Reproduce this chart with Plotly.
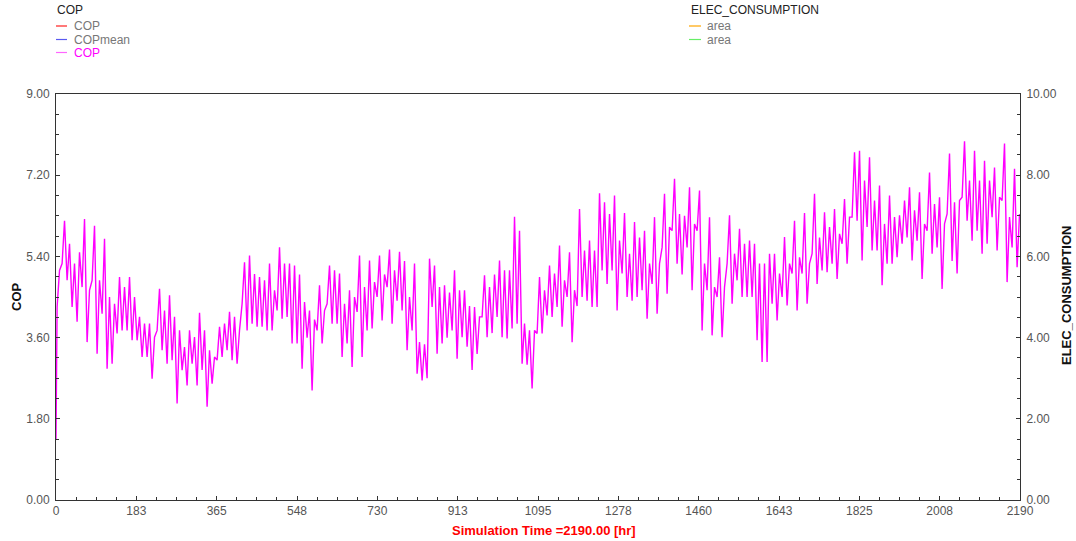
import numpy as np
import plotly.graph_objects as go

# ---------------- data ----------------
X_TICK_VALUES = [0, 182.5, 365, 547.5, 730, 912.5, 1095, 1277.5, 1460, 1642.5, 1825, 2007.5, 2190]
X_TICK_LABELS = ["0", "183", "365", "548", "730", "913", "1095", "1278", "1460", "1643", "1825", "2008", "2190"]
Y_LEFT_TICKS = [0.0, 1.8, 3.6, 5.4, 7.2, 9.0]
Y_RIGHT_TICKS = [0.0, 2.0, 4.0, 6.0, 8.0, 10.0]

# first hours of the simulation
START_HOURS = [0, 1]
START_COP = [1.35, 2.45]

# approximate minimum / maximum of COP in consecutive ~11.4 h blocks
LOW_Q1 = [4.28, 5.24, 4.87, 4.28, 3.95, 4.72, 3.50, 4.87, 3.24, 4.13, 2.91, 3.02,
          3.69, 3.76, 3.76, 3.54, 3.54, 3.17, 3.17, 2.69, 3.76, 3.32, 3.02, 3.10,
          2.14, 2.88, 2.54, 3.02, 2.54, 2.88, 2.07, 2.58, 3.10, 3.17, 3.32, 3.10,
          3.02, 4.35, 3.76, 3.91, 3.84, 3.84, 3.76, 3.76, 4.20, 4.02, 4.06, 3.47]
HIGH_Q1 = [5.09, 6.19, 5.68, 5.24, 5.49, 6.23, 4.65, 6.08, 4.87, 5.79, 4.50, 4.35,
           4.94, 4.72, 4.94, 4.50, 4.06, 3.91, 3.91, 3.61, 4.68, 4.20, 4.54, 4.06,
           3.76, 3.39, 3.76, 3.61, 4.15, 3.76, 3.32, 3.17, 3.84, 3.91, 4.17, 4.06,
           3.76, 5.27, 5.42, 5.01, 4.94, 4.87, 5.24, 4.65, 5.60, 5.24, 5.24, 5.20]

LOW_Q2 = [3.47, 2.91, 3.60, 2.43, 3.76, 3.47, 4.35, 3.91, 3.91, 3.17, 3.47, 2.95,
          4.17, 3.17, 3.76, 3.80, 4.50, 3.98, 4.72, 3.91, 4.42, 4.20, 3.32, 3.76,
          2.80, 2.65, 2.70, 4.28, 3.24, 3.47, 3.60, 3.76, 3.13, 3.61, 3.40, 2.88,
          3.24, 4.06, 3.61, 3.70, 4.06, 3.61, 3.58, 3.80, 3.91, 3.02, 3.00, 2.47]
HIGH_Q2 = [5.00, 4.39, 4.20, 4.00, 4.76, 4.20, 5.20, 5.09, 5.02, 4.35, 4.65, 4.50,
           5.42, 4.72, 5.31, 4.83, 5.42, 5.00, 5.55, 5.09, 5.50, 5.30, 4.50, 5.24,
           3.50, 3.45, 5.35, 5.20, 4.72, 4.76, 4.60, 5.09, 4.65, 4.65, 4.30, 4.28,
           4.06, 4.98, 4.72, 5.00, 5.31, 5.09, 5.09, 6.28, 5.97, 3.91, 3.76, 3.76]

LOW_Q3 = [3.69, 3.69, 4.09, 4.06, 4.28, 3.84, 4.50, 3.50, 4.30, 4.50, 4.42, 4.28,
          4.28, 5.09, 4.79, 5.09, 4.20, 5.02, 4.50, 4.42, 4.50, 4.65, 4.02, 4.79,
          4.13, 5.60, 4.57, 5.97, 5.24, 5.00, 5.60, 4.65, 5.97, 3.76, 4.65, 3.65,
          4.50, 3.61, 5.24, 4.35, 4.87, 4.50, 4.50, 4.50, 3.54, 3.06, 3.06, 4.35]
HIGH_Q3 = [4.94, 4.65, 5.20, 5.02, 5.64, 4.87, 5.49, 4.65, 6.45, 5.53, 5.75, 5.53,
           6.80, 6.60, 6.34, 6.75, 5.75, 6.36, 5.46, 6.16, 5.82, 5.97, 5.24, 6.27,
           5.24, 6.79, 6.05, 7.12, 6.34, 6.30, 6.93, 6.12, 6.86, 5.24, 6.27, 4.72,
           5.38, 4.72, 6.31, 5.46, 6.01, 5.68, 5.75, 5.68, 5.24, 5.24, 5.46, 5.46]

LOW_Q4 = [3.98, 4.50, 4.31, 5.02, 4.20, 5.02, 4.35, 5.46, 4.79, 5.09, 5.05, 5.24,
          4.90, 5.68, 5.24, 6.27, 6.19, 5.31, 6.05, 5.53, 5.53, 4.76, 5.24, 5.24,
          5.38, 5.68, 5.82, 5.31, 5.75, 4.90, 5.97, 5.46, 5.60, 4.68, 6.34, 5.30,
          5.02, 6.71, 6.19, 5.75, 5.97, 5.46, 5.68, 6.27, 5.53, 6.64, 4.83, 5.60,
          5.16]
HIGH_Q4 = [5.02, 5.83, 5.24, 6.19, 5.38, 6.36, 5.24, 6.79, 5.82, 6.38, 6.05, 6.45,
           5.90, 6.67, 6.27, 7.71, 7.74, 7.08, 7.60, 6.64, 6.97, 6.12, 6.75, 6.27,
           6.31, 6.64, 6.93, 6.42, 6.82, 6.12, 7.26, 6.56, 6.71, 6.12, 7.68, 6.60,
           6.64, 7.95, 7.08, 7.74, 7.08, 7.52, 7.08, 7.37, 6.71, 7.90, 6.27, 7.34,
           6.34]

# ---------------- assemble series ----------------
cop_low = LOW_Q1 + LOW_Q2 + LOW_Q3 + LOW_Q4
cop_high = HIGH_Q1 + HIGH_Q2 + HIGH_Q3 + HIGH_Q4
block = 2190 / 192.8
hours = list(START_HOURS)
cop = list(START_COP)
for k in range(len(cop_low)):
    hours += [min(k * block + 2.5, 2190), min(k * block + 8.0, 2190)]
    cop += [cop_low[k], cop_high[k]]

# ---------------- figure ----------------
L, R, T, B = 56, 1020, 94, 500
W_PX, H_PX = 1076, 541


def px(x):
    return (x - L) / (R - L)


def py(y):
    return (B - y) / (B - T)


fig = go.Figure()
fig.add_trace(go.Scatter(x=hours, y=cop, mode="lines",
                         line=dict(color="#FF00FF", width=1.4),
                         showlegend=False, hoverinfo="skip"))
fig.add_trace(go.Scatter(x=[None], y=[None], yaxis="y2", mode="lines",
                         showlegend=False, hoverinfo="skip"))

axis_col = "#333333"
tick_font = dict(family="Liberation Sans, Arial, sans-serif", size=12, color="#555555")

fig.update_layout(
    width=W_PX, height=H_PX,
    margin=dict(l=L, r=W_PX - R, t=T, b=H_PX - B),
    paper_bgcolor="white", plot_bgcolor="white",
    font=dict(family="Liberation Sans, Arial, sans-serif"),
    showlegend=False,
    xaxis=dict(range=[0, 2190], tickmode="array", tickvals=X_TICK_VALUES, ticktext=X_TICK_LABELS,
               ticks="inside", ticklen=4, tickcolor=axis_col, showline=True, linecolor=axis_col,
               linewidth=1, mirror=True, showgrid=False, zeroline=False, tickfont=tick_font,
               minor=dict(ticks="inside", ticklen=3, tick0=0, dtick=45.625, tickcolor=axis_col,
                          showgrid=False)),
    yaxis=dict(range=[0, 9], tickmode="array", tickvals=Y_LEFT_TICKS, tickformat=".2f",
               ticks="inside", ticklen=4, tickcolor=axis_col, showline=True, linecolor=axis_col,
               linewidth=1, showgrid=False, zeroline=False, tickfont=tick_font,
               ticklabelstandoff=3,
               minor=dict(ticks="inside", ticklen=3, tick0=0, dtick=0.45, tickcolor=axis_col,
                          showgrid=False)),
    yaxis2=dict(range=[0, 10], overlaying="y", side="right", tickmode="array",
                tickvals=Y_RIGHT_TICKS, tickformat=".2f",
                ticks="inside", ticklen=4, tickcolor=axis_col, showline=True, linecolor=axis_col,
                linewidth=1, showgrid=False, zeroline=False, tickfont=tick_font,
                ticklabelstandoff=3,
                minor=dict(ticks="inside", ticklen=3, tick0=0, dtick=0.5, tickcolor=axis_col,
                           showgrid=False)),
)

ann = []
shapes = []


def text(x, y, s, color="#777777", size=12, bold=False, angle=0, xanchor="left"):
    ann.append(dict(x=px(x), y=py(y), xref="paper", yref="paper", text=("<b>%s</b>" % s) if bold else s,
                    showarrow=False, xanchor=xanchor, yanchor="middle", textangle=angle,
                    font=dict(family="Liberation Sans, Arial, sans-serif", size=size, color=color)))


def legline(x0, x1, y, color):
    shapes.append(dict(type="line", xref="paper", yref="paper", x0=px(x0), x1=px(x1),
                       y0=py(y), y1=py(y), line=dict(color=color, width=1.2)))


# left legend
text(55, 10, "COP", color="#222222")
legline(56, 67, 26, "#FF2020")
text(72, 26, "COP")
legline(56, 67, 39.5, "#5A5AF0")
text(72, 39.5, "COPmean")
legline(56, 67, 52.5, "#FF66FF")
text(72, 52.5, "COP", color="#FF00FF")

# right legend
text(689, 10, "ELEC_CONSUMPTION", color="#222222")
legline(689, 701, 26, "#FFA500")
text(705, 26, "area")
legline(689, 701, 39.5, "#66EE66")
text(705, 39.5, "area")

# axis titles
text(544, 530, "Simulation Time =2190.00 [hr]", color="#FF0000", size=13, bold=True, xanchor="center")
text(16, 297, "COP", color="#111111", size=13, bold=True, angle=-90, xanchor="center")
text(1066, 296, "ELEC_CONSUMPTION", color="#111111", size=13, bold=True, angle=-90, xanchor="center")

fig.update_layout(annotations=ann, shapes=shapes)
fig.write_html("out.html")
